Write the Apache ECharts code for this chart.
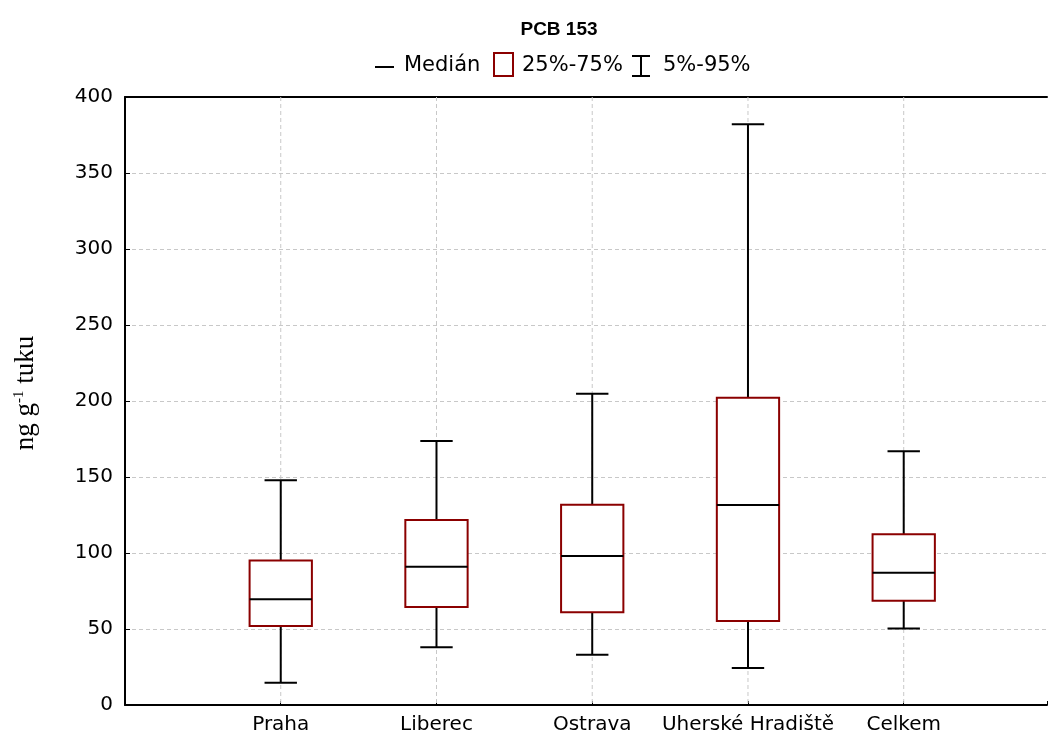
<!DOCTYPE html>
<html>
<head>
<meta charset="utf-8">
<script src="https://cdn.jsdelivr.net/npm/echarts@6/dist/echarts.min.js"></script>
<style>
  html, body { margin: 0; padding: 0; background: #fff; }
  #chart { width: 1050px; height: 738px; }
</style>
</head>
<body>
<div id="chart"></div>
<script>
const categories = ['Praha', 'Liberec', 'Ostrava', 'Uherské Hradiště', 'Celkem']
const p05 = [14.7, 38, 33, 24.3, 50.4]
const p25 = [52, 64.5, 61, 55.3, 68.6]
const median = [69.5, 91, 98, 131.5, 87]
const p75 = [95, 121.7, 131.7, 202.2, 112.3]
const p95 = [147.8, 173.7, 204.8, 382, 167]
const yTicks = [0, 50, 100, 150, 200, 250, 300, 350, 400]

const boxColor = '#8b0000'
const gridColor = '#c8c8c8'
const font = '"DejaVu Sans", sans-serif'

const rows = categories.map((c, i) => [i + 1, p05[i], p25[i], median[i], p75[i], p95[i]])

function renderBox(params, api) {
  const x = api.value(0)
  const pt = v => api.coord([x, v])
  const left = api.coord([x - 0.2, 0])[0]
  const right = api.coord([x + 0.2, 0])[0]
  const capL = api.coord([x - 0.104, 0])[0]
  const capR = api.coord([x + 0.104, 0])[0]
  const cx = pt(0)[0]
  const yBottom = pt(yTicks[0])[1]
  const yTop = pt(yTicks[yTicks.length - 1])[1]
  const y05 = pt(api.value(1))[1]
  const y25 = pt(api.value(2))[1]
  const yMed = pt(api.value(3))[1]
  const y75 = pt(api.value(4))[1]
  const y95 = pt(api.value(5))[1]
  const line = { stroke: '#000', lineWidth: 2 }
  return {
    type: 'group',
    children: [
      // vertical grid line for the category
      { type: 'line', shape: { x1: cx, y1: yTop, x2: cx, y2: yBottom }, style: { stroke: gridColor, lineWidth: 1, lineDash: [4, 3] } },
      { type: 'line', shape: { x1: cx, y1: y95, x2: cx, y2: y75 }, style: line },
      { type: 'line', shape: { x1: cx, y1: y25, x2: cx, y2: y05 }, style: line },
      { type: 'line', shape: { x1: capL, y1: y95, x2: capR, y2: y95 }, style: line },
      { type: 'line', shape: { x1: capL, y1: y05, x2: capR, y2: y05 }, style: line },
      {
        type: 'rect',
        shape: { x: left, y: y75, width: right - left, height: y25 - y75 },
        style: { fill: '#fff', stroke: boxColor, lineWidth: 2 },
      },
      { type: 'line', shape: { x1: left, y1: yMed, x2: right, y2: yMed }, style: line },
    ],
  }
}

const chart = echarts.init(document.getElementById('chart'))
chart.setOption({
  animation: false,
  title: {
    text: 'PCB 153',
    left: 554,
    textAlign: 'center',
    top: 15,
    textStyle: { fontFamily: '"Liberation Sans", Arial, sans-serif', fontWeight: 'bold', fontSize: 19, color: '#000' },
  },
  graphic: [
    { type: 'line', shape: { x1: 375, y1: 67, x2: 394, y2: 67 }, style: { stroke: '#000', lineWidth: 2 } },
    { type: 'text', x: 404, y: 66, style: { text: 'Medián', font: '21px ' + font, fill: '#000', verticalAlign: 'middle' } },
    { type: 'rect', shape: { x: 494, y: 53, width: 19, height: 23 }, style: { fill: '#fff', stroke: boxColor, lineWidth: 2 } },
    { type: 'text', x: 522, y: 66, style: { text: '25%-75%', font: '21px ' + font, fill: '#000', verticalAlign: 'middle' } },
    { type: 'line', shape: { x1: 641, y1: 56, x2: 641, y2: 76 }, style: { stroke: '#000', lineWidth: 2 } },
    { type: 'line', shape: { x1: 632, y1: 56, x2: 650, y2: 56 }, style: { stroke: '#000', lineWidth: 2 } },
    { type: 'line', shape: { x1: 632, y1: 76, x2: 650, y2: 76 }, style: { stroke: '#000', lineWidth: 2 } },
    { type: 'text', x: 663, y: 66, style: { text: '5%-95%', font: '21px ' + font, fill: '#000', verticalAlign: 'middle' } },
  ],
  grid: { left: 125, top: 97, right: 0, bottom: 33 },
  xAxis: [{
    type: 'value',
    min: 0, max: 5.92, interval: 1,
    axisLine: { show: true, lineStyle: { color: '#000', width: 2 } },
    axisTick: { show: true, inside: true, length: 4, lineStyle: { color: '#000' } },
    axisLabel: {
      color: '#000', fontFamily: font, fontSize: 20, margin: 10,
      formatter: v => categories[v - 1] || '',
    },
    splitLine: { show: false },
  }, {
    type: 'value',
    position: 'top',
    min: 0, max: 5.92, interval: 1,
    axisLine: { show: true, lineStyle: { color: '#000', width: 2 } },
    axisTick: { show: false },
    axisLabel: { show: false },
    splitLine: { show: false },
  }],
  yAxis: {
    type: 'value',
    min: yTicks[0], max: yTicks[yTicks.length - 1], interval: 50,
    name: 'ng g{sup|-1} tuku',
    nameLocation: 'middle',
    nameGap: 86,
    nameTextStyle: {
      fontFamily: '"Liberation Serif", "Times New Roman", serif', fontSize: 27, color: '#000',
      padding: [0, 0, 0, 16],
      rich: { sup: { fontFamily: '"Liberation Serif", serif', fontSize: 15, verticalAlign: 'top', color: '#000' } },
    },
    axisLine: { show: true, lineStyle: { color: '#000', width: 2 } },
    axisTick: { show: true, inside: true, length: 5, lineStyle: { color: '#000' } },
    axisLabel: { color: '#000', fontFamily: font, fontSize: 20, margin: 12 },
    splitLine: { show: true, lineStyle: { color: gridColor, type: [4, 3], width: 1 } },
  },
  series: [{
    type: 'custom',
    renderItem: renderBox,
    data: rows,
    encode: { x: 0, y: [1, 2, 3, 4, 5] },
    clip: false,
  }],
})
</script>
</body>
</html>
